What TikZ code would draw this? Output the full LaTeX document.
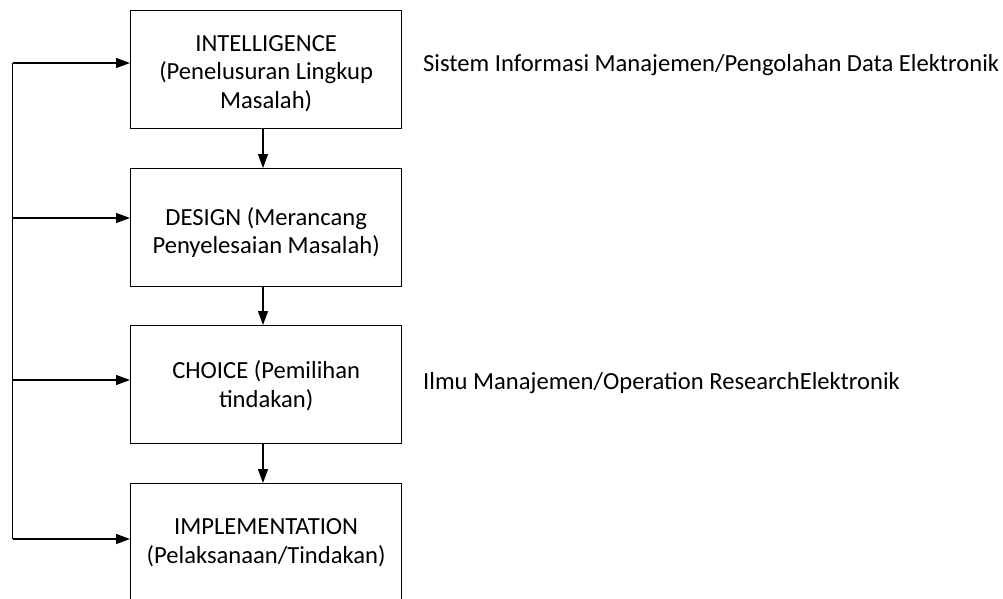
\documentclass[tikz,border=0pt]{standalone}
\usepackage{fontspec}
\setmainfont{Carlito}
\usetikzlibrary{arrows.meta}
\begin{document}
\begin{tikzpicture}[x=1pt,y=-1pt,
  stage/.style={draw, line width=1.3pt, minimum width=271pt, minimum height=118pt,
    inner sep=0pt, anchor=north west},
  caption/.style={align=center, font=\fontsize{24.6}{28.5}\selectfont, inner sep=0pt},
  flow/.style={-{Triangle[length=14pt,width=10pt]}, line width=1.3pt},
  link/.style={line width=1.3pt},
  note/.style={anchor=base west, font=\fontsize{24.6}{28.5}\selectfont, inner sep=0pt}]
\useasboundingbox (0,0) rectangle (1003,598);
\clip (0,0) rectangle (1003,598);

% the four decision stages
\node[stage] (int) at (130,10)  {};
\node[stage] (des) at (130,168) {};
\node[stage] (cho) at (130,325) {};
\node[stage] (imp) at (130,483) {};

% stage texts
\node[caption] (intT) at ([yshift=-4pt]int.center) {INTELLIGENCE\\(Penelusuran Lingkup\\Masalah)};
\node[caption] (desT) at ([yshift=-5pt]des.center) {DESIGN (Merancang\\Penyelesaian Masalah)};
\node[caption] (choT) at ([yshift=-1pt]cho.center) {CHOICE (Pemilihan\\tindakan)};
\node[caption] (impT) at ([yshift=0pt]imp.center)  {IMPLEMENTATION\\(Pelaksanaan/Tindakan)};

% downward flow between stages
\coordinate (axis) at (263,0);
\draw[flow] (axis |- int.south) -- (axis |- des.north);
\draw[flow] (axis |- des.south) -- (axis |- cho.north);
\draw[flow] (axis |- cho.south) -- (axis |- imp.north);

% feedback bus on the left
\coordinate (fb1) at (12.5,63);
\coordinate (fb2) at (12.5,218);
\coordinate (fb3) at (12.5,380);
\coordinate (fb4) at (12.5,539);
\draw[link] (fb1) -- (fb4);
\draw[flow] (fb1) -- (fb1 -| int.west);
\draw[flow] (fb2) -- (fb2 -| des.west);
\draw[flow] (fb3) -- (fb3 -| cho.west);
\draw[flow] (fb4) -- (fb4 -| imp.west);

% side notes
\node[note] (sim)  at (423,71)  {Sistem Informasi Manajemen/Pengolahan Data Elektronik};
\node[note] (ilmu) at (423,389) {Ilmu Manajemen/Operation ResearchElektronik};
\end{tikzpicture}
\end{document}
